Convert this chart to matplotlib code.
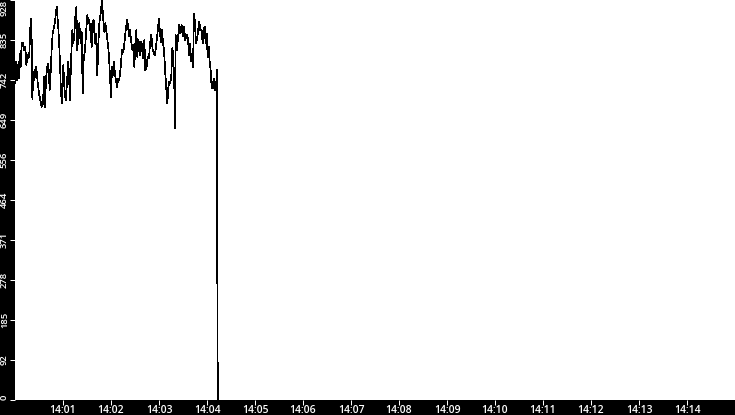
import matplotlib.pyplot as plt
from matplotlib.transforms import ScaledTranslation

# seconds after 14:00:00 and the sampled value
times = [0, 1.25, 2.1, 3.3, 4.6, 5.8, 7.1, 8.3, 9.6, 11.25, 12.9, 14.2, 15.4, 16.7, 17.9,
         19.6, 20.8, 21.7, 22.9, 24.2, 25.8, 27.1, 28.3, 30, 31.7, 33.3, 35, 36.25, 37.5,
         38.75, 40.4, 41.7, 43.3, 44.6, 45.8, 47.1, 48.75, 50.4, 52.1, 52.9, 54.2, 55.4,
         56.25, 57.5, 58.75, 60.4, 61.7, 63.3, 64.6, 66.7, 68.75, 70, 71.7, 72.9, 74.2,
         75.4, 76.7, 77.9, 79.2, 80.4, 82.1, 83.3, 84.6, 85.8, 87.5, 88.75, 90.4, 91.7,
         92.9, 94.6, 95.8, 96.7, 98.3, 100, 101.25, 102.9, 104.2, 105.4, 107.1, 108.75,
         110.4, 111.7, 112.9, 114.6, 116.7, 117.9, 118.75, 120, 121.25, 122.5, 123.75,
         125, 126.25, 127.5, 129.2, 130.4, 132.1, 133.75, 135.4, 136.7, 138.3, 140,
         141.25, 142.5, 143.75, 145, 146.7, 147.9, 149.2, 150.4, 151.7, 152.9, 154.2,
         155.4, 156.7, 157.9, 159.2, 160.4, 161.7, 162.9, 164.6, 165.8, 167.5, 168.75,
         170.4, 172.1, 173.3, 174.6, 175.8, 177.1, 178.75, 180, 181.25, 182.5, 183.75,
         185, 186.25, 187.9, 189.2, 190.4, 191.7, 192.9, 194.2, 195.4, 196.7, 197.9,
         199.2, 200, 200.8, 202.1, 203.75, 205.4, 206.7, 208.3, 209.6, 211.25, 212.9,
         214.6, 216.25, 217.5, 218.75, 220, 221.25, 222.5, 223.75, 225, 226.25, 227.9,
         229.2, 230.4, 231.7, 233.3, 234.6, 235.8, 237.1, 238.3, 239.6, 240.8, 242.1,
         243.3, 244.6, 245.8, 247.1, 248.3, 249.6, 250.8, 252.1, 252.6, 252.7, 253.5]
values = [734, 785, 742, 777, 746, 804, 773, 827, 829, 812, 819, 777, 800, 792, 804,
          885, 839, 699, 761, 742, 773, 761, 738, 711, 695, 680, 688, 750, 680,
          746, 773, 781, 719, 761, 812, 852, 864, 885, 912, 893, 862, 819,
          781, 711, 688, 777, 726, 695, 726, 785, 695, 785, 858, 827, 850,
          889, 912, 812, 850, 874, 827, 854, 711, 788, 812, 850, 893, 874,
          881, 850, 819, 874, 881, 827, 850, 754, 827, 874, 897, 928,
          881, 854, 874, 850, 816, 781, 750, 703, 773, 754, 785,
          754, 742, 726, 746, 742, 773, 812, 808, 827, 858, 881,
          870, 843, 858, 835, 812, 823, 773, 827, 858, 796, 835,
          827, 800, 831, 816, 792, 835, 765, 773, 796, 792, 827,
          847, 812, 808, 800, 812, 835, 866, 885, 850, 831, 858,
          827, 812, 757, 723, 688, 726, 738, 734, 754, 816, 796,
          723, 630, 847, 812, 839, 870, 850, 870, 843, 866, 835,
          847, 839, 800, 827, 785, 804, 773, 897, 874, 827, 843,
          862, 878, 858, 858, 827, 858, 866, 827, 850, 796, 819,
          785, 765, 723, 723, 746, 719, 738, 719, 765, 381, 0]

x_ticks = [60, 120, 180, 240, 300, 360, 420, 480, 540, 600, 660, 720, 780, 840]
x_labels = ["14:01", "14:02", "14:03", "14:04", "14:05", "14:06", "14:07",
            "14:08", "14:09", "14:10", "14:11", "14:12", "14:13", "14:14"]
y_ticks = [0, 92.8, 185.6, 278.4, 371.2, 464, 556.8, 649.6, 742.4, 835.2, 928]
y_labels = ["0", "92", "185", "278", "371", "464", "556", "649", "742", "835", "928"]

W, H = 735, 415
fig = plt.figure(figsize=(W / 100, H / 100), dpi=100, facecolor="black")
ax = fig.add_axes([15 / W, 15 / H, 720 / W, 400 / H], facecolor="white")

ax.plot(times, values, color="black", linewidth=0.5, antialiased=False)

ax.set_xlim(0, 900)
ax.set_ylim(0, 928)
for s in ax.spines.values():
    s.set_visible(False)

ax.set_xticks(x_ticks)
ax.set_xticklabels(x_labels, fontsize=7.5, family="Open Sans", weight="semibold",
                   color="white")
ax.set_yticks(y_ticks)
ax.set_yticklabels(y_labels, fontsize=6.8, family="Open Sans", weight="semibold",
                   color="white", rotation=90, va="center")

# nudge y labels slightly down, keep the end ones inside the axis
shift = ScaledTranslation(0, -2 / 100, fig.dpi_scale_trans)
for lab in ax.get_yticklabels():
    lab.set_transform(lab.get_transform() + shift)
ax.get_yticklabels()[0].set_va("bottom")
ax.get_yticklabels()[-1].set_va("top")

ax.tick_params(axis="x", colors="white", length=3.6, width=0.72, pad=0)
ax.tick_params(axis="y", colors="white", length=3.6, width=0.72, pad=0.8)

fig.savefig("out.png", dpi=100, facecolor="black")
